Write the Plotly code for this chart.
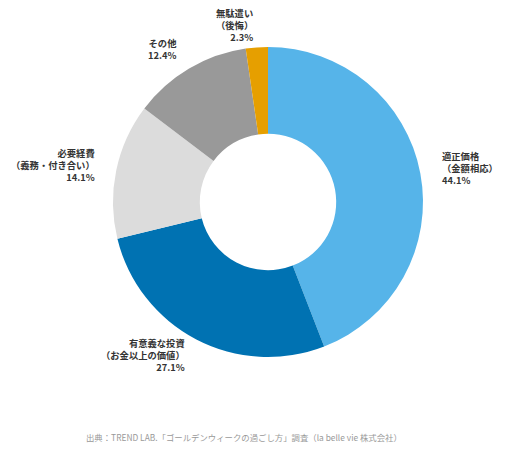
import math
import plotly.graph_objects as go

categories = ["適正価格<br>（金額相応）", "有意義な投資<br>（お金以上の価値）", "必要経費<br>（義務・付き合い）", "その他", "無駄遣い<br>（後悔）"]
values = [44.1, 27.1, 14.1, 12.4, 2.3]
colors = ["#56B4E9", "#0072B2", "#DCDCDC", "#999999", "#E69F00"]
source = "出典：TREND LAB.「ゴールデンウィークの過ごし方」調査（la belle vie 株式会社）"

OFF = 8  # browser body margin
W, H = 506 - OFF, 450 - OFF
cx, cy, R = 268 - OFF, 202 - OFF, 155

fig = go.Figure(go.Pie(
    labels=categories, values=values, sort=False, direction="clockwise", rotation=0,
    hole=0.44, marker=dict(colors=colors, line=dict(width=0)), textinfo="none",
    hoverinfo="label+percent",
    domain=dict(x=[(cx - R) / W, (cx + R) / W], y=[(H - cy - R) / H, (H - cy + R) / H]),
))

total = sum(values)
cum = 0
annotations = []
for lab, v in zip(categories, values):
    mid = (cum + v / 2) / total * 2 * math.pi
    cum += v
    lr = R + 20
    px = cx + lr * math.sin(mid)
    py = cy - lr * math.cos(mid) - 2
    right = math.sin(mid) > 0.3
    annotations.append(dict(
        x=px / W, y=1 - py / H, xref="paper", yref="paper",
        text=f"<b>{lab}<br>{v:.1f}%</b>", showarrow=False,
        xanchor="left" if right else "right", yanchor="middle",
        align="left" if right else "right",
        font=dict(size=9.3, color="#333333", family="Noto Sans CJK JP"),
    ))
annotations.append(dict(
    x=(244 - OFF) / W, y=1 - (437 - OFF) / H, xref="paper", yref="paper", text=source, showarrow=False,
    xanchor="center", yanchor="middle", font=dict(size=8.4, color="#999999", family="Noto Sans CJK JP"),
))

fig.update_layout(
    width=W, height=H, margin=dict(l=0, r=0, t=0, b=0), showlegend=False,
    paper_bgcolor="white", plot_bgcolor="white", annotations=annotations,
    font=dict(family="Noto Sans CJK JP"),
)
fig.write_html("out.html")
